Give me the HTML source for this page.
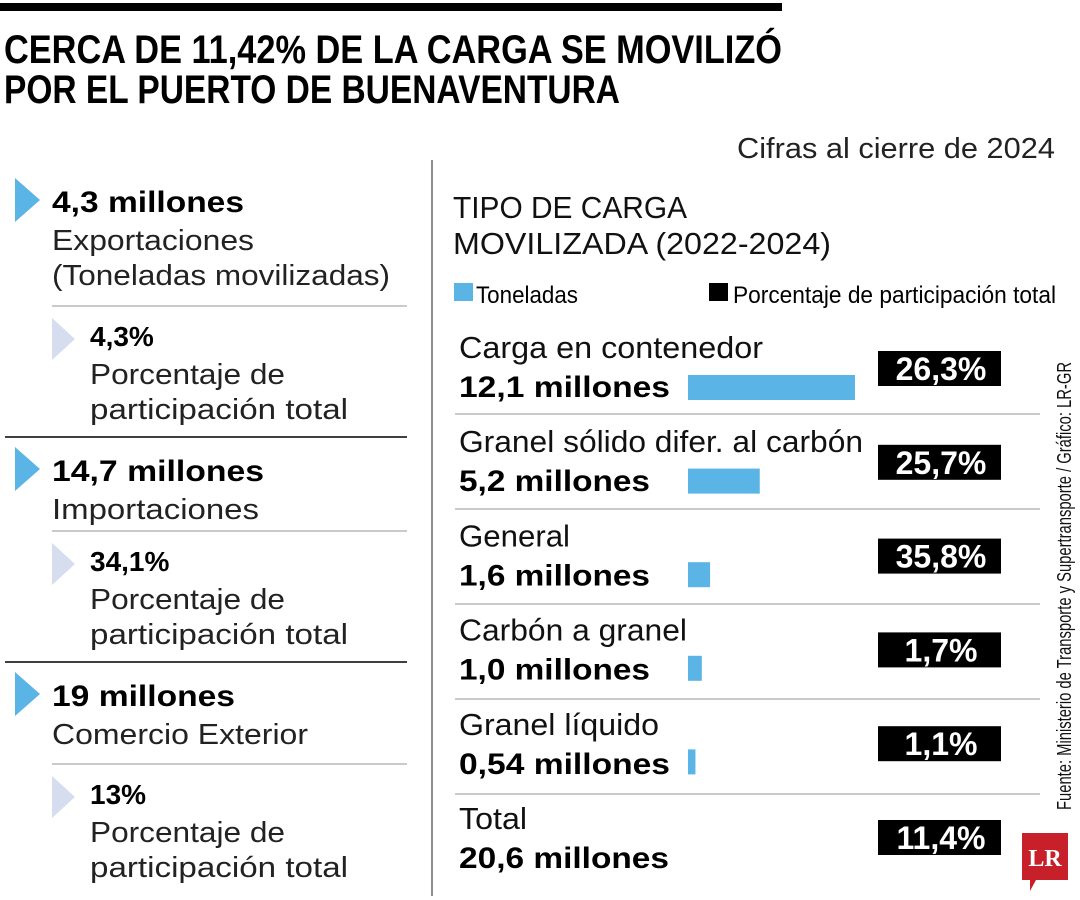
<!DOCTYPE html>
<html><head><meta charset="utf-8"><style>
html,body{margin:0;padding:0;background:#fff;}
svg{display:block;font-family:"Liberation Sans",sans-serif;}
</style></head><body>
<svg id="chart" width="1080" height="900" viewBox="0 0 1080 900">
<rect x="0" y="3" width="782" height="8" fill="#000"/>
<text x="4" y="63" font-size="40" font-weight="bold" textLength="778" lengthAdjust="spacingAndGlyphs">CERCA DE 11,42% DE LA CARGA SE MOVILIZÓ</text>
<text x="4" y="103" font-size="40" font-weight="bold" textLength="616" lengthAdjust="spacingAndGlyphs">POR EL PUERTO DE BUENAVENTURA</text>
<text x="1055" y="158" font-size="29" text-anchor="end" fill="#222" textLength="318" lengthAdjust="spacingAndGlyphs">Cifras al cierre de 2024</text>
<line x1="432" y1="160" x2="432" y2="896" stroke="#444" stroke-width="1.2"/>

<g id="left"></g>

<text x="453" y="218" font-size="31" fill="#111" textLength="234" lengthAdjust="spacingAndGlyphs">TIPO DE CARGA</text>
<text x="453" y="254" font-size="31" fill="#111" textLength="378" lengthAdjust="spacingAndGlyphs">MOVILIZADA (2022-2024)</text>
<g>
<rect x="454" y="283" width="19" height="18" fill="#5ab4e5"/>
<text x="476" y="303" font-size="24" textLength="102" lengthAdjust="spacingAndGlyphs">Toneladas</text></g>
<g>
<rect x="709" y="283" width="19" height="18" fill="#000"/>
<text x="733" y="303" font-size="24" textLength="323" lengthAdjust="spacingAndGlyphs">Porcentaje de participación total</text></g>

<g id="rows"></g>

<text transform="translate(1071,810) rotate(-90)" font-size="20" fill="#111" textLength="448" lengthAdjust="spacingAndGlyphs">Fuente: Ministerio de Transporte y Supertransporte / Gráfico: LR-GR</text>
<g>
<path d="M1022 833 H1068 V880 H1036 L1030 891 V880 H1022 Z" fill="#c8202a"/>
<text x="1045" y="866" font-family="'Liberation Serif',serif" font-weight="bold" font-size="24" fill="#fff" text-anchor="middle">LR</text></g>
</svg>
<script>
const categories=["Carga en contenedor","Granel sólido difer. al carbón","General","Carbón a granel","Granel líquido","Total"];
const tonnes=[12.1,5.2,1.6,1.0,0.54,null];
const tonneLabels=["12,1 millones","5,2 millones","1,6 millones","1,0 millones","0,54 millones","20,6 millones"];
const shareLabels=["26,3%","25,7%","35,8%","1,7%","1,1%","11,4%"];
const NS="http://www.w3.org/2000/svg";
const catLen=[304,404,111,228,200,68];
const valLen=[211,191,191,191,211,210];
function mk(tag,attrs,parent,txt){const e=document.createElementNS(NS,tag);for(const k in attrs)e.setAttribute(k,attrs[k]);if(txt!==undefined)e.textContent=txt;parent.appendChild(e);return e;}
const xScale=v=>v*13.8;
const rows=document.getElementById('rows');
categories.forEach((c,i)=>{
  const g=mk('g',{},rows);
  
  
  const by=358+i*94.2;
  const t1=mk('text',{x:459,y:by,'font-size':31,fill:'#111',textLength:catLen[i],lengthAdjust:'spacingAndGlyphs'},g,c);
  
  
  const t2=mk('text',{x:459,y:by+39,'font-size':30,'font-weight':'bold',textLength:valLen[i],lengthAdjust:'spacingAndGlyphs'},g,tonneLabels[i]);
  
  
  const ry=375+i*93.6;
  if(tonnes[i]!==null){
    const b=mk('rect',{x:688,y:ry,width:xScale(tonnes[i]),height:25,fill:'#5ab4e5'},g);
    
    
  }
  const bt=351+i*93.8;
  const r=mk('rect',{x:878,y:bt,width:123,height:35,fill:'#000'},g);
  
  
  const t3=mk('text',{x:941,y:bt+29,'font-size':32,'font-weight':'bold',fill:'#fff','text-anchor':'middle'},g,shareLabels[i]);
  
  
  if(i<5){const l=mk('line',{x1:455,x2:1040,y1:414+i*95,y2:414+i*95,stroke:'#aaa','stroke-width':1.2},g);
    
    }
});
const left=document.getElementById('left');
const blocks=[
 {top:178,val:"4,3 millones",vl:192,lines:[["Exportaciones",202],["(Toneladas movilizadas)",338]],pct:"4,3%",gy:306,by:437},
 {top:447,val:"14,7 millones",vl:212,lines:[["Importaciones",207]],pct:"34,1%",gy:531,by:662},
 {top:672,val:"19 millones",vl:183,lines:[["Comercio Exterior",256]],pct:"13%",gy:764,by:null}
];
blocks.forEach((b,i)=>{
  const g=mk('g',{},left);
  
  
  mk('path',{d:`M15 ${b.top} L40 ${b.top+22} L15 ${b.top+44} Z`,fill:'#5ab4e5'},g);
  mk('text',{x:52,y:b.top+34,'font-size':30,'font-weight':'bold',textLength:b.vl,lengthAdjust:'spacingAndGlyphs'},g,b.val);
  b.lines.forEach((l,j)=>mk('text',{x:52,y:b.top+72+j*35,'font-size':29,fill:'#222',textLength:l[1],lengthAdjust:'spacingAndGlyphs'},g,l[0]));
  mk('line',{x1:52,x2:407,y1:b.gy,y2:b.gy,stroke:'#aaa','stroke-width':1.2},g);
  const pt=b.gy+12;
  mk('path',{d:`M52 ${pt} L75 ${pt+21} L52 ${pt+42} Z`,fill:'#d5ddef'},g);
  mk('text',{x:90,y:pt+28,'font-size':28,'font-weight':'bold'},g,b.pct);
  mk('text',{x:90,y:pt+66,'font-size':29,fill:'#222',textLength:195,lengthAdjust:'spacingAndGlyphs'},g,"Porcentaje de");
  mk('text',{x:90,y:pt+101,'font-size':29,fill:'#222',textLength:258,lengthAdjust:'spacingAndGlyphs'},g,"participación total");
  if(b.by)mk('line',{x1:5,x2:407,y1:b.by,y2:b.by,stroke:'#000','stroke-width':1.5},g);
});
</script>
</body></html>
